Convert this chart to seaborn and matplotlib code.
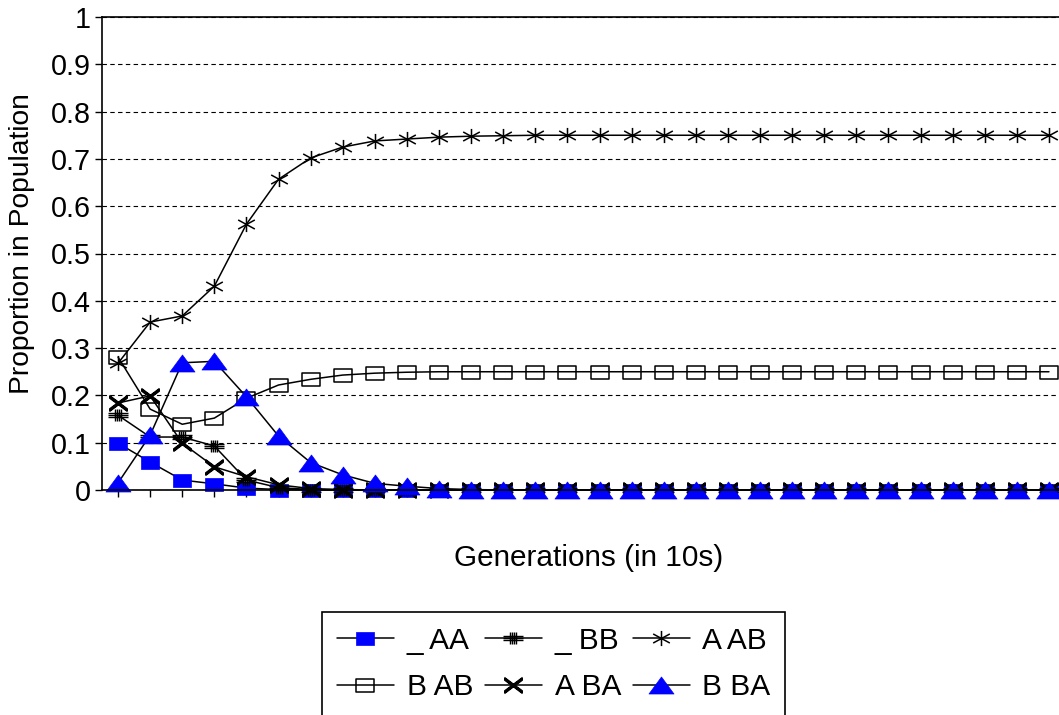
import matplotlib
matplotlib.use("Agg")
import matplotlib.pyplot as plt
from matplotlib.path import Path
import seaborn as sns

# Proportions, one value per generation step (x10)
generations = list(range(30))
aa_blank = [0.099, 0.059, 0.021, 0.013, 0.004, 0.001, 0, 0, 0, 0,
            0, 0, 0, 0, 0, 0, 0, 0, 0, 0,
            0, 0, 0, 0, 0, 0, 0, 0, 0, 0]
bb_blank = [0.158, 0.112, 0.112, 0.093, 0.021, 0.005, 0.001, 0, 0, 0,
            0, 0, 0, 0, 0, 0, 0, 0, 0, 0,
            0, 0, 0, 0, 0, 0, 0, 0, 0, 0]
a_ab = [0.268, 0.355, 0.368, 0.431, 0.562, 0.657, 0.702, 0.725, 0.738, 0.742,
        0.746, 0.748, 0.749, 0.75, 0.75, 0.75, 0.75, 0.75, 0.75, 0.75,
        0.75, 0.75, 0.75, 0.75, 0.75, 0.75, 0.75, 0.75, 0.75, 0.75]
b_ab = [0.281, 0.171, 0.139, 0.152, 0.194, 0.222, 0.234, 0.243, 0.247, 0.249,
        0.25, 0.25, 0.25, 0.25, 0.25, 0.25, 0.25, 0.25, 0.25, 0.25,
        0.25, 0.25, 0.25, 0.25, 0.25, 0.25, 0.25, 0.25, 0.25, 0.25]
a_ba = [0.184, 0.199, 0.099, 0.049, 0.028, 0.011, 0.003, 0.001, 0, 0,
        0, 0, 0, 0, 0, 0, 0, 0, 0, 0,
        0, 0, 0, 0, 0, 0, 0, 0, 0, 0]
b_ba = [0.015, 0.116, 0.269, 0.272, 0.197, 0.114, 0.058, 0.032, 0.014, 0.008,
        0.003, 0.001, 0, 0, 0, 0, 0, 0, 0, 0,
        0, 0, 0, 0, 0, 0, 0, 0, 0, 0]

labels = ["_ AA", "_ BB", "A AB", "B AB", "A BA", "B BA"]
yticks = [0, 0.1, 0.2, 0.3, 0.4, 0.5, 0.6, 0.7, 0.8, 0.9, 1]
ytick_labels = ["0", "0.1", "0.2", "0.3", "0.4", "0.5", "0.6", "0.7", "0.8", "0.9", "1"]


def seg_path(segs):
    verts, codes = [], []
    for (x0, y0), (x1, y1) in segs:
        verts += [(x0, y0), (x1, y1)]
        codes += [Path.MOVETO, Path.LINETO]
    return Path(verts, codes)


rect = Path([(-1, -0.72), (1, -0.72), (1, 0.72), (-1, 0.72), (-1, -0.72)],
            [Path.MOVETO, Path.LINETO, Path.LINETO, Path.LINETO, Path.CLOSEPOLY])
tri = Path([(0, 0.68), (-1, -0.68), (1, -0.68), (0, 0.68)],
           [Path.MOVETO, Path.LINETO, Path.LINETO, Path.CLOSEPOLY])
hash_m = seg_path([((x, -0.65), (x, 0.65)) for x in (-0.3, -0.1, 0.1, 0.3)]
                  + [((-1, y), (1, y)) for y in (-0.22, 0, 0.22)])
star_m = seg_path([((0, -1), (0, 1)), ((-1.1, -0.6), (1.1, 0.6)), ((-1.1, 0.6), (1.1, -0.6))])
cross_m = seg_path([((-1, -0.75 + d), (1, 0.75 + d)) for d in (-0.14, -0.05, 0.05, 0.14)]
                   + [((-1, 0.75 + d), (1, -0.75 + d)) for d in (-0.14, -0.05, 0.05, 0.14)])

series = [aa_blank, bb_blank, a_ab, b_ab, a_ba, b_ba]
styles = [
    dict(marker=rect, markersize=13, markerfacecolor="#0000FF", markeredgecolor="#0000FF", markeredgewidth=0.5),
    dict(marker=hash_m, markersize=14, markerfacecolor="none", markeredgecolor="black", markeredgewidth=1.0),
    dict(marker=star_m, markersize=12, markerfacecolor="none", markeredgecolor="black", markeredgewidth=1.1),
    dict(marker=rect, markersize=13, markerfacecolor="none", markeredgecolor="black", markeredgewidth=1.1),
    dict(marker=cross_m, markersize=13, markerfacecolor="none", markeredgecolor="black", markeredgewidth=1.0),
    dict(marker=tri, markersize=18, markerfacecolor="#0000FF", markeredgecolor="#0000FF", markeredgewidth=0.5),
]

sns.set_theme(style="white")
plt.rcParams["font.family"] = ["Liberation Sans", "DejaVu Sans"]
plt.rcParams.update({"text.color": "black", "axes.labelcolor": "black",
                     "xtick.color": "black", "ytick.color": "black"})

fig = plt.figure(figsize=(10.59, 7.15), dpi=100)
ax = fig.add_axes([102 / 1059, 1 - 490 / 715, 963 / 1059, 473 / 715])

handles = []
for vals, st in zip(series, styles):
    sns.lineplot(x=generations, y=vals, color="black", linewidth=1.1,
                 legend=False, ax=ax, clip_on=False, **st)
    handles.append(ax.lines[-1])

ax.set_xlim(-0.5, 29.5)
ax.set_ylim(0, 1)
ax.set_xticks(generations)
ax.set_xticklabels([])
ax.set_yticks(yticks)
ax.set_yticklabels(ytick_labels, fontsize=20.7)
ax.tick_params(axis="both", direction="out", length=5, width=1, color="black",
               bottom=True, left=True, pad=3)
ax.yaxis.grid(True, linestyle=(0, (4, 3)), color="black", linewidth=0.8)
for s in ax.spines.values():
    s.set_color("black")
    s.set_linewidth(1.2)

ax.set_xlabel("Generations (in 10s)", fontsize=21.4, va="top")
ax.xaxis.set_label_coords(0.505, -0.115)
ax.set_ylabel("Proportion in Population", fontsize=20.3)
ax.yaxis.set_label_coords(-0.07, 0.521)

order = [0, 3, 1, 4, 2, 5]
leg = fig.legend([handles[i] for i in order], [labels[i] for i in order],
                 loc="upper left", bbox_to_anchor=(322 / 1059, 1 - 612 / 715),
                 ncol=3, frameon=True, fancybox=False, edgecolor="black",
                 framealpha=1, borderpad=0.5, labelspacing=0.62,
                 handlelength=1.9, handletextpad=0.43, columnspacing=0.4,
                 borderaxespad=0, fontsize=21.5)
leg.get_frame().set_linewidth(1.2)

fig.savefig("out.png", dpi=100)
